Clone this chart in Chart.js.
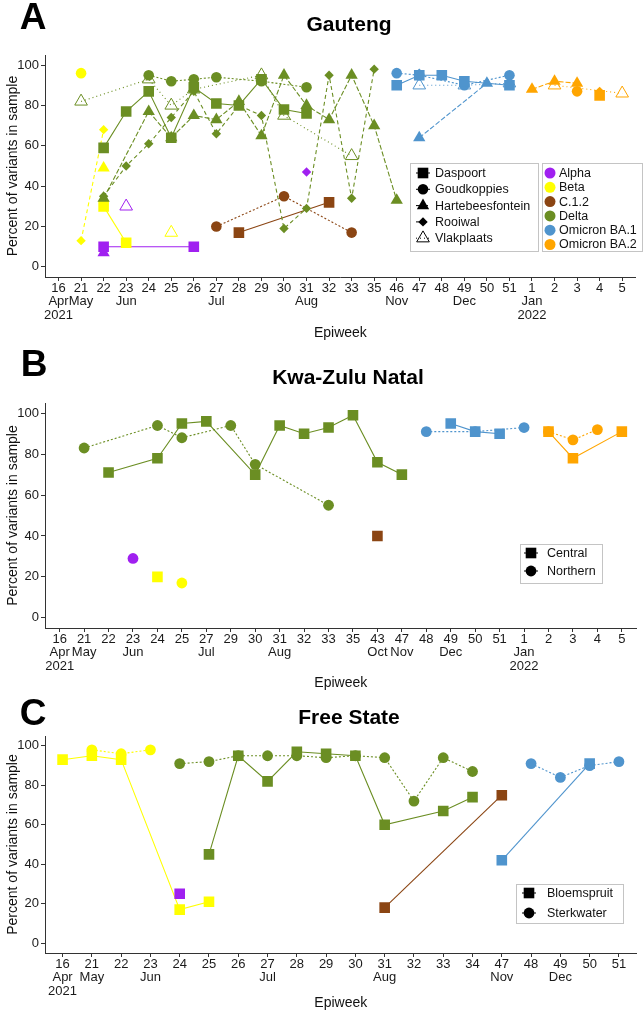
<!DOCTYPE html>
<html>
<head>
<meta charset="utf-8">
<script src="https://cdn.jsdelivr.net/npm/chart.js@4/dist/chart.umd.min.js"></script>
<style>
  body { margin: 0; background: #fff; }
  canvas { position: absolute; left: 0; }
</style>
</head>
<body>
<canvas id="panelA" width="644" height="340" style="top:0px"></canvas>
<canvas id="panelB" width="644" height="350" style="top:340px"></canvas>
<canvas id="panelC" width="644" height="325" style="top:690px"></canvas>
<script>
const FONT = "'Liberation Sans', Arial, Helvetica, sans-serif";

const yTicks = [0, 20, 40, 60, 80, 100];

// Gauteng axis
const weeksA = ["16", "21", "22", "23", "24", "25", "26", "27", "28", "29", "30", "31", "32", "33", "35", "46", "47", "48", "49", "50", "51", "1", "2", "3", "4", "5"];
const monthsA = ["Apr", "May", "", "Jun", "", "", "", "Jul", "", "", "", "Aug", "", "", "", "Nov", "", "", "Dec", "", "", "Jan", "", "", "", ""];
const yearsA = ["2021", "", "", "", "", "", "", "", "", "", "", "", "", "", "", "", "", "", "", "", "", "2022", "", "", "", ""];

// Gauteng values: [epiweek, percent]
const gtAlphaDaspoort = [[22, 10], [26, 10]];
const gtAlphaHartebeesfontein = [[22, 7]];
const gtAlphaRooiwal = [[31, 47]];
const gtAlphaVlakplaats = [[23, 30]];
const gtBetaDaspoort = [[22, 30], [23, 12]];
const gtBetaGoudkoppies = [[21, 96]];
const gtBetaHartebeesfontein = [[22, 49]];
const gtBetaRooiwal = [[21, 13], [22, 68]];
const gtBetaVlakplaats = [[25, 17]];
const gtC12Daspoort = [[28, 17], [32, 32]];
const gtC12Goudkoppies = [[27, 20], [30, 35], [33, 17]];
const gtDeltaDaspoort = [[22, 59], [23, 77], [24, 87], [25, 64], [26, 89], [27, 81], [28, 80], [29, 93], [30, 78], [31, 76]];
const gtDeltaGoudkoppies = [[24, 95], [25, 92], [26, 93], [27, 94], [29, 92], [31, 89]];
const gtDeltaHartebeesfontein = [[22, 34], [24, 77], [25, 64], [26, 75], [27, 73], [28, 82], [29, 65], [30, 95], [31, 80], [32, 73], [33, 95], [35, 70], [46, 33]];
const gtDeltaRooiwal = [[22, 35], [23, 50], [24, 61], [25, 74], [26, 87], [27, 66], [28, 80], [29, 75], [30, 19], [31, 29], [32, 95], [33, 34], [35, 98]];
const gtDeltaVlakplaats = [[21, 82], [24, 93], [25, 80], [26, 88], [29, 95], [30, 75], [33, 55]];
const gtBA1Daspoort = [[46, 90], [47, 95], [48, 95], [49, 92], [51, 90]];
const gtBA1Goudkoppies = [[46, 96], [47, 95], [49, 90], [51, 95]];
const gtBA1Hartebeesfontein = [[47, 64], [50, 91]];
const gtBA1Rooiwal = [[47, 96]];
const gtBA1Vlakplaats = [[47, 90], [49, 90], [51, 91]];
const gtBA2Daspoort = [[4, 85]];
const gtBA2Goudkoppies = [[3, 87]];
const gtBA2Hartebeesfontein = [[1, 88], [2, 92], [3, 91]];
const gtBA2Rooiwal = [[4, 87]];
const gtBA2Vlakplaats = [[2, 90], [5, 86]];

// Kwa-Zulu Natal axis
const weeksB = ["16", "21", "22", "23", "24", "25", "27", "29", "30", "31", "32", "33", "35", "43", "47", "48", "49", "50", "51", "1", "2", "3", "4", "5"];
const monthsB = ["Apr", "May", "", "Jun", "", "", "Jul", "", "", "Aug", "", "", "", "Oct", "Nov", "", "Dec", "", "", "Jan", "", "", "", ""];
const yearsB = ["2021", "", "", "", "", "", "", "", "", "", "", "", "", "", "", "", "", "", "", "2022", "", "", "", ""];

const kzAlphaNorthern = [[23, 29]];
const kzBetaCentral = [[24, 20]];
const kzBetaNorthern = [[25, 17]];
const kzC12Central = [[43, 40]];
const kzDeltaCentral = [[22, 71], [24, 78], [25, 95], [27, 96], [30, 70], [31, 94], [32, 90], [33, 93], [35, 99], [43, 76], [47, 70]];
const kzDeltaNorthern = [[21, 83], [24, 94], [25, 88], [29, 94], [30, 75], [33, 55]];
const kzBA1Central = [[49, 95], [50, 91], [51, 90]];
const kzBA1Northern = [[48, 91], [50, 91], [1, 93]];
const kzBA2Central = [[2, 91], [3, 78], [5, 91]];
const kzBA2Northern = [[2, 91], [3, 87], [4, 92]];

// Free State axis
const weeksC = ["16", "21", "22", "23", "24", "25", "26", "27", "28", "29", "30", "31", "32", "33", "34", "47", "48", "49", "50", "51"];
const monthsC = ["Apr", "May", "", "Jun", "", "", "", "Jul", "", "", "", "Aug", "", "", "", "Nov", "", "Dec", "", ""];
const yearsC = ["2021", "", "", "", "", "", "", "", "", "", "", "", "", "", "", "", "", "", "", ""];

const fsAlphaBloemspruit = [[24, 25]];
const fsBetaBloemspruit = [[16, 93], [21, 95], [22, 93], [24, 17], [25, 21]];
const fsBetaSterkwater = [[21, 98], [22, 96], [23, 98]];
const fsC12Bloemspruit = [[31, 18], [47, 75]];
const fsDeltaBloemspruit = [[25, 45], [26, 95], [27, 82], [28, 97], [29, 96], [30, 95], [31, 60], [33, 67], [34, 74]];
const fsDeltaSterkwater = [[24, 91], [25, 92], [26, 95], [27, 95], [28, 95], [29, 94], [30, 95], [31, 94], [32, 72], [33, 94], [34, 87]];
const fsBA1Bloemspruit = [[47, 42], [50, 91]];
const fsBA1Sterkwater = [[48, 91], [49, 84], [50, 90], [51, 92]];

const variantColors = {
  "Alpha": "#A020F0",
  "Beta": "#FFFF00",
  "C.1.2": "#8B4513",
  "Delta": "#6B8E23",
  "Omicron BA.1": "#4F94CD",
  "Omicron BA.2": "#FFA500"
};

// shape + linetype per site
const siteStyles = {
  Daspoort: { shape: "rect", r: 7.5, dash: [] },
  Goudkoppies: { shape: "circle", r: 5.3, dash: [2, 2] },
  Hartebeesfontein: { shape: "triangle", r: 7.1, dash: [5, 2] },
  Rooiwal: { shape: "rectRot", r: 4.7, dash: [4, 3] },
  Vlakplaats: { shape: "triangle", r: 7.3, dash: [1, 3], hollow: true },
  Central: { shape: "rect", r: 7.5, dash: [] },
  Northern: { shape: "circle", r: 5.4, dash: [2, 2] },
  Bloemspruit: { shape: "rect", r: 7.5, dash: [] },
  Sterkwater: { shape: "circle", r: 5.4, dash: [2, 2] }
};

const gautengSeries = [
  ["Delta", "Daspoort", gtDeltaDaspoort], ["Delta", "Goudkoppies", gtDeltaGoudkoppies],
  ["Delta", "Hartebeesfontein", gtDeltaHartebeesfontein], ["Delta", "Rooiwal", gtDeltaRooiwal],
  ["Delta", "Vlakplaats", gtDeltaVlakplaats],
  ["Alpha", "Daspoort", gtAlphaDaspoort], ["Alpha", "Hartebeesfontein", gtAlphaHartebeesfontein],
  ["Alpha", "Rooiwal", gtAlphaRooiwal], ["Alpha", "Vlakplaats", gtAlphaVlakplaats],
  ["Beta", "Daspoort", gtBetaDaspoort], ["Beta", "Goudkoppies", gtBetaGoudkoppies],
  ["Beta", "Hartebeesfontein", gtBetaHartebeesfontein], ["Beta", "Rooiwal", gtBetaRooiwal],
  ["Beta", "Vlakplaats", gtBetaVlakplaats],
  ["C.1.2", "Daspoort", gtC12Daspoort], ["C.1.2", "Goudkoppies", gtC12Goudkoppies],
  ["Omicron BA.1", "Daspoort", gtBA1Daspoort], ["Omicron BA.1", "Goudkoppies", gtBA1Goudkoppies],
  ["Omicron BA.1", "Hartebeesfontein", gtBA1Hartebeesfontein], ["Omicron BA.1", "Rooiwal", gtBA1Rooiwal],
  ["Omicron BA.1", "Vlakplaats", gtBA1Vlakplaats],
  ["Omicron BA.2", "Daspoort", gtBA2Daspoort], ["Omicron BA.2", "Goudkoppies", gtBA2Goudkoppies],
  ["Omicron BA.2", "Hartebeesfontein", gtBA2Hartebeesfontein], ["Omicron BA.2", "Rooiwal", gtBA2Rooiwal],
  ["Omicron BA.2", "Vlakplaats", gtBA2Vlakplaats]
];

const kznSeries = [
  ["Delta", "Central", kzDeltaCentral], ["Delta", "Northern", kzDeltaNorthern],
  ["Alpha", "Northern", kzAlphaNorthern], ["Beta", "Central", kzBetaCentral], ["Beta", "Northern", kzBetaNorthern],
  ["C.1.2", "Central", kzC12Central],
  ["Omicron BA.1", "Central", kzBA1Central], ["Omicron BA.1", "Northern", kzBA1Northern],
  ["Omicron BA.2", "Central", kzBA2Central], ["Omicron BA.2", "Northern", kzBA2Northern]
];

const freeStateSeries = [
  ["Beta", "Bloemspruit", fsBetaBloemspruit], ["Beta", "Sterkwater", fsBetaSterkwater],
  ["Alpha", "Bloemspruit", fsAlphaBloemspruit],
  ["Delta", "Bloemspruit", fsDeltaBloemspruit], ["Delta", "Sterkwater", fsDeltaSterkwater],
  ["C.1.2", "Bloemspruit", fsC12Bloemspruit],
  ["Omicron BA.1", "Bloemspruit", fsBA1Bloemspruit], ["Omicron BA.1", "Sterkwater", fsBA1Sterkwater]
];

function buildDatasets(series, weeks) {
  const lines = [];
  const marks = [];
  series.forEach(([variant, site, values]) => {
    const st = siteStyles[site];
    const col = variantColors[variant];
    const data = values.map(([w, v]) => ({ x: weeks.indexOf(String(w)), y: v }));
    if (data.length > 1) {
      lines.push({ data, borderColor: col, borderWidth: 1.1, borderDash: st.dash, pointRadius: 0, fill: false, order: 2 });
    }
    marks.push({
      data, showLine: false, order: 1,
      pointStyle: st.shape, pointRadius: st.r,
      pointBackgroundColor: st.hollow ? "rgba(0,0,0,0)" : col,
      pointBorderColor: col, pointBorderWidth: st.hollow ? 1 : 0
    });
  });
  return lines.concat(marks);
}

function drawSymbol(ctx, shape, r, x, y, hollow) {
  ctx.lineWidth = 1;
  Chart.helpers.drawPoint(ctx, { pointStyle: shape, radius: r, rotation: 0, borderWidth: hollow ? 1 : 0 }, x, y);
}

function drawLegend(ctx, lg) {
  ctx.setLineDash([]);
  ctx.strokeStyle = "#c4c4c4";
  ctx.lineWidth = 1;
  ctx.strokeRect(lg.x + 0.5, lg.y + 0.5, lg.w, lg.h);
  lg.items.forEach((it, i) => {
    const y = lg.rowY + i * lg.step;
    const col = it.color || "#000";
    if (it.site) {
      const st = siteStyles[it.site];
      ctx.strokeStyle = col;
      ctx.setLineDash(st.dash);
      ctx.beginPath();
      ctx.moveTo(lg.symX - 7, y);
      ctx.lineTo(lg.symX + 7, y);
      ctx.stroke();
      ctx.setLineDash([]);
      ctx.fillStyle = st.hollow ? "rgba(0,0,0,0)" : col;
      ctx.strokeStyle = col;
      drawSymbol(ctx, st.shape, st.r, lg.symX, y, st.hollow);
    } else {
      ctx.fillStyle = col;
      drawSymbol(ctx, "circle", 5.5, lg.symX, y, false);
    }
    ctx.fillStyle = "#111";
    ctx.font = "12.5px " + FONT;
    ctx.textAlign = "left";
    ctx.textBaseline = "middle";
    ctx.fillText(it.label, lg.textX, y + 0.5);
  });
}

function decoPlugin(o) {
  return {
    id: "deco",
    afterDraw(chart) {
      const ctx = chart.ctx;
      const area = chart.chartArea;
      ctx.save();
      ctx.textAlign = "center";
      ctx.textBaseline = "middle";
      ctx.fillStyle = "#000";
      ctx.font = "bold 37px " + FONT;
      ctx.fillText(o.letter, o.letterX, o.letterY);
      ctx.font = "bold 21px " + FONT;
      ctx.fillText(o.title, o.titleX, o.titleY);
      ctx.fillStyle = "#111";
      ctx.font = "14px " + FONT;
      ctx.fillText("Epiweek", (area.left + area.right) / 2, o.xTitleY);
      ctx.save();
      ctx.translate(13, (area.top + area.bottom) / 2);
      ctx.rotate(-Math.PI / 2);
      ctx.fillText("Percent of variants in sample", 0, 0);
      ctx.restore();
      o.legends.forEach(lg => drawLegend(ctx, lg));
      ctx.restore();
    }
  };
}

function makePanel(id, o) {
  const n = o.weeks.length;
  return new Chart(document.getElementById(id), {
    type: "line",
    data: { datasets: buildDatasets(o.series, o.weeks) },
    options: {
      responsive: false,
      animation: false,
      events: [],
      layout: { padding: { top: o.top, right: 4, left: 0, bottom: 0 } },
      plugins: { legend: { display: false }, tooltip: { enabled: false } },
      scales: {
        x: {
          type: "linear",
          min: -0.6,
          max: n - 0.4,
          afterBuildTicks: s => { s.ticks = o.weeks.map((w, i) => ({ value: i })); },
          afterFit: s => { s.height = o.xHeight; },
          grid: { drawOnChartArea: false, tickLength: 4, color: "#333" },
          border: { color: "#333", width: 1 },
          ticks: {
            autoSkip: false, maxRotation: 0, minRotation: 0, padding: 1,
            color: "#1a1a1a",
            font: { family: FONT, size: 13, lineHeight: 1.02 },
            callback: v => {
              const i = Math.round(v);
              return [o.weeks[i], o.months[i], o.years[i]].filter(s => s);
            }
          }
        },
        y: {
          min: -5,
          max: 105,
          afterBuildTicks: s => { s.ticks = yTicks.map(v => ({ value: v })); },
          afterFit: s => { s.width = 45; },
          grid: { drawOnChartArea: false, tickLength: 4, color: "#333" },
          border: { color: "#333", width: 1 },
          ticks: { padding: 2, color: "#1a1a1a", font: { family: FONT, size: 13 } }
        }
      }
    },
    plugins: [decoPlugin(o)]
  });
}

const siteLegend = (names, x, y, w, h, rowY, step, symX, textX) => ({
  x, y, w, h, rowY, step, symX, textX,
  items: names.map(s => ({ label: s, site: s }))
});

makePanel("panelA", {
  weeks: weeksA, months: monthsA, years: yearsA, series: gautengSeries,
  top: 55, xHeight: 63,
  letter: "A", letterX: 33, letterY: 19,
  title: "Gauteng", titleX: 349, titleY: 25, xTitleY: 333,
  legends: [
    siteLegend(["Daspoort", "Goudkoppies", "Hartebeesfontein", "Rooiwal", "Vlakplaats"], 410, 163, 128, 88, 173, 16.3, 423, 435),
    {
      x: 542, y: 163, w: 100, h: 88, rowY: 173, step: 14.3, symX: 550, textX: 559,
      items: Object.keys(variantColors).map(k => ({ label: k, color: variantColors[k] }))
    }
  ]
});

makePanel("panelB", {
  weeks: weeksB, months: monthsB, years: yearsB, series: kznSeries,
  top: 63, xHeight: 62,
  letter: "B", letterX: 34, letterY: 26,
  title: "Kwa-Zulu Natal", titleX: 348, titleY: 38, xTitleY: 343,
  legends: [siteLegend(["Central", "Northern"], 520, 204, 82, 39, 213, 18, 531, 547)]
});

makePanel("panelC", {
  weeks: weeksC, months: monthsC, years: yearsC, series: freeStateSeries,
  top: 46, xHeight: 62,
  letter: "C", letterX: 33, letterY: 25,
  title: "Free State", titleX: 349, titleY: 28, xTitleY: 313,
  legends: [siteLegend(["Bloemspruit", "Sterkwater"], 516, 194, 107, 39, 203, 20, 529, 547)]
});
</script>
</body>
</html>
